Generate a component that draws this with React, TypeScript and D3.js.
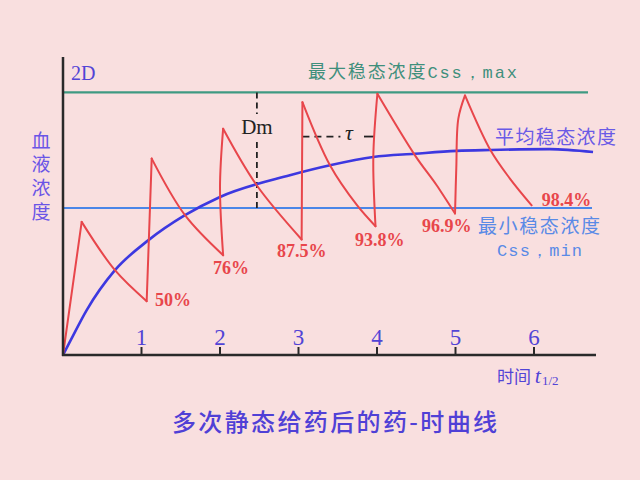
import React from "react";
import * as d3 from "d3";

// x in half-lives (t1/2), y in concentration units (Css,max = 2)
const xTicks = [1, 2, 3, 4, 5, 6];
const cssMax = 2.0;
const cssMin = 1.12;
const dmX = 2.47;
const tauY = 1.664;
const tauFrom = 3.05;
const tauTo = 3.94;

// red saw-tooth, drawn stroke by stroke
const redSegments: [number, number][][] = [
  [[0, 0], [0.238, 1.014]],
  [[0.238, 1.014], [0.662, 0.646], [1.066, 0.41]],
  [[1.066, 0.41], [1.13, 1.496]],
  [[1.13, 1.496], [1.554, 1.065], [2.04, 0.76]],
  [[2.04, 0.76], [2.0, 1.28], [2.04, 1.724]],
  [[2.04, 1.724], [2.468, 1.293], [3.04, 0.88]],
  [[3.04, 0.88], [3.05, 1.926]],
  [[3.05, 1.926], [3.401, 1.445], [3.745, 1.141], [3.981, 0.981]],
  [[3.981, 0.981], [3.953, 1.508], [4.005, 1.99]],
  [[4.005, 1.99], [4.484, 1.521], [4.76, 1.293], [4.994, 1.078]],
  [[4.994, 1.078], [5.01, 1.422], [5.036, 1.8], [5.121, 1.977]],
  [[5.121, 1.977], [5.446, 1.559], [5.693, 1.344], [5.97, 1.14]],
];

// mean concentration curve
const meanX = [0, 0.1, 0.302, 0.662, 1.089, 1.554, 2.0, 2.89, 3.401, 3.953, 4.484, 5.015, 5.446, 6.2, 6.752];
const meanY = [0, 0.115, 0.342, 0.646, 0.875, 1.065, 1.204, 1.369, 1.445, 1.508, 1.533, 1.555, 1.562, 1.568, 1.546];

// trough labels
const pctLabels = ["50%", "76%", "87.5%", "93.8%", "96.9%", "98.4%"];
const pctX = [1.172, 1.911, 2.726, 3.72, 4.573, 6.1];
const pctY = [0.372, 0.62, 0.75, 0.828, 0.935, 1.138];

const W = 640;
const H = 480;

export default function App() {
  const x = d3.scaleLinear().domain([0, 6.8]).range([63, 596.8]);
  const y = d3.scaleLinear().domain([0, 2.27]).range([355, 57]);

  const seg = d3
    .line<[number, number]>()
    .x((d) => x(d[0]))
    .y((d) => y(d[1]))
    .curve(d3.curveCatmullRom.alpha(0.5));

  const meanLine = d3
    .line<number>()
    .x((d) => x(d))
    .y((_, i) => y(meanY[i]))
    .curve(d3.curveMonotoneX);

  const red = "#e8464b";
  const purple = "#5244d6";
  const serif = "'Liberation Serif', 'DejaVu Serif', serif";
  const cjk = "'Noto Sans CJK SC', sans-serif";
  const mono = "'Liberation Mono', 'DejaVu Sans Mono', monospace";

  const dmPx = x(dmX);

  return (
    <svg
      width={W}
      height={H}
      style={{ position: "absolute", left: 0, top: 0, background: "#f9dfdf" }}
    >
      <rect x={0} y={0} width={W} height={H} fill="#f9dfdf" />

      {/* Css max / min lines */}
      <line x1={x(0)} x2={588} y1={y(cssMax)} y2={y(cssMax)} stroke="#3f9a82" strokeWidth={2.2} />
      <line x1={x(0)} x2={592} y1={y(cssMin)} y2={y(cssMin)} stroke="#4a86e8" strokeWidth={2} />

      {/* Dm dashed vertical */}
      <line x1={dmPx} x2={dmPx} y1={y(cssMax)} y2={114} stroke="#222" strokeWidth={1.8} strokeDasharray="6,4" />
      <line x1={dmPx} x2={dmPx} y1={142} y2={y(cssMin)} stroke="#222" strokeWidth={1.8} strokeDasharray="6,4" />
      <text x={dmPx} y={134} textAnchor="middle" fontFamily={serif} fontSize={21} fill="#222">
        Dm
      </text>

      {/* tau dashed horizontal */}
      <line x1={x(tauFrom)} x2={x(tauFrom) + 38} y1={y(tauY)} y2={y(tauY)} stroke="#222" strokeWidth={1.8} strokeDasharray="7,5" />
      <line x1={364} x2={x(tauTo) + 2} y1={y(tauY)} y2={y(tauY)} stroke="#222" strokeWidth={1.8} />
      <text x={349} y={140} textAnchor="middle" fontFamily={serif} fontStyle="italic" fontSize={22} fill="#222">
        τ
      </text>

      {/* mean curve */}
      <path d={meanLine(meanX) || ""} fill="none" stroke="#3d38e0" strokeWidth={2.6} />

      {/* red sawtooth */}
      {redSegments.map((s, i) => (
        <path key={i} d={seg(s) || ""} fill="none" stroke={red} strokeWidth={2} strokeLinejoin="round" strokeLinecap="round" />
      ))}

      {/* axes */}
      <line x1={x(0)} x2={x(0)} y1={57} y2={356} stroke="#2a2a2a" strokeWidth={2.5} />
      <line x1={x(0) - 1} x2={596} y1={y(0)} y2={y(0)} stroke="#2a2a2a" strokeWidth={2.5} />
      {xTicks.map((t) => (
        <g key={t}>
          <line x1={x(t)} x2={x(t)} y1={y(0)} y2={y(0) - 8} stroke="#2a2a2a" strokeWidth={2} />
          <text x={x(t)} y={345} textAnchor="middle" fontFamily={serif} fontSize={23} fill={purple}>
            {t}
          </text>
        </g>
      ))}

      {/* percent labels */}
      {pctLabels.map((p, i) => (
        <text key={p} x={x(pctX[i])} y={y(pctY[i])} textAnchor="start" fontFamily={serif} fontWeight="bold" fontSize={18} fill={red}>
          {p}
        </text>
      ))}

      {/* 2D */}
      <text x={71} y={80} fontFamily={serif} fontSize={20} fill={purple}>
        2D
      </text>

      {/* y label (vertical) */}
      <text
        x={41}
        y={131}
        fontFamily={cjk}
        fontSize={19}
        fill="#6a55e6"
        style={{ writingMode: "vertical-rl" }}
        textLength={90}
        lengthAdjust="spacing"
      >
        血液浓度
      </text>

      {/* Css max label */}
      <text x={308} y={78} fill="#3f8f7c" textLength={209} lengthAdjust="spacing">
        <tspan fontFamily={cjk} fontSize={18}>最大稳态浓度</tspan>
        <tspan fontFamily={mono} fontSize={17}>Css，max</tspan>
      </text>

      {/* mean label */}
      <text x={495} y={144} fontFamily={cjk} fontSize={19} fill="#6a5ae6" textLength={121} lengthAdjust="spacing">
        平均稳态浓度
      </text>

      {/* Css min label */}
      <text x={478} y={233} fontFamily={cjk} fontSize={19} fill="#5a8ae6" textLength={122} lengthAdjust="spacing">
        最小稳态浓度
      </text>
      <text x={497} y={256} fontFamily={mono} fontSize={17} fill="#5a8ae6" textLength={85} lengthAdjust="spacing">
        Css，min
      </text>

      {/* x label */}
      <text x={497} y={383} fill={purple}>
        <tspan fontFamily={cjk} fontSize={17}>时间 </tspan>
        <tspan fontFamily={serif} fontStyle="italic" fontSize={22}>t</tspan>
        <tspan fontFamily={serif} fontSize={13} dx={1} dy={2}>1/2</tspan>
      </text>

      {/* title */}
      <text x={172} y={431} fontFamily={cjk} fontSize={24} fontWeight={500} fill="#5040d6" textLength={325} lengthAdjust="spacing">
        多次静态给药后的药-时曲线
      </text>
    </svg>
  );
}
